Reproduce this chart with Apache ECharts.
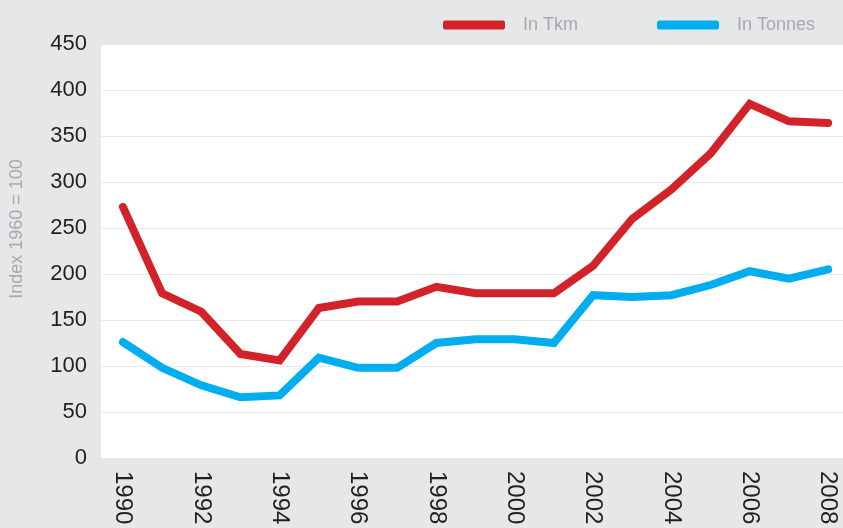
<!DOCTYPE html>
<html>
<head>
    <meta charset="UTF-8">
    <title>Index 1960 = 100</title>
    <script src="https://cdn.jsdelivr.net/npm/echarts@6/dist/echarts.min.js"></script>
    <style>
        html, body { margin: 0; padding: 0; background: #e6e7e8; }
    </style>
</head>
<body>
    <div id="main" style="width: 843px; height: 528px;"></div>
    <script>
        // years on the x axis
        const years = [1990, 1991, 1992, 1993, 1994, 1995, 1996, 1997, 1998, 1999,
                       2000, 2001, 2002, 2003, 2004, 2005, 2006, 2007, 2008];
        // labelled years
        const yearTicks = [1990, 1992, 1994, 1996, 1998, 2000, 2002, 2004, 2006, 2008];
        // values
        const tkm = [273, 179, 159, 113, 106, 163, 170, 170, 186, 179,
                     179, 179, 209, 260, 292, 331, 385, 366, 364];
        const tonnes = [126, 98, 79, 66, 68, 109, 98, 98, 125, 129,
                        129, 125, 177, 175, 177, 188, 203, 195, 205];
        const seriesNames = ['In Tkm', 'In Tonnes'];
        const colors = ['#d2232a', '#00aeef'];

        const font = 'Liberation Sans, Arial, sans-serif';

        function pairs(vals) {
            return years.map((y, i) => [y, vals[i]]);
        }

        const option = {
            backgroundColor: '#e6e7e8',
            textStyle: { fontFamily: font },
            legend: {
                left: 438,
                top: 11,
                itemWidth: 62,
                itemHeight: 9,
                itemGap: 79,
                icon: 'roundRect',
                textStyle: { color: '#a7a9ac', fontSize: 18, padding: [0, 0, 0, 13] },
                data: seriesNames
            },
            grid: {
                left: 101,
                right: 0,
                top: 44,
                bottom: 70,
                show: true,
                backgroundColor: '#ffffff',
                borderWidth: 0
            },
            graphic: [{
                type: 'text',
                x: 8,
                y: 229,
                rotation: Math.PI / 2,
                style: {
                    text: 'Index 1960 = 100',
                    fill: '#a7a9ac',
                    font: '18px ' + font,
                    align: 'center',
                    verticalAlign: 'top'
                }
            }],
            xAxis: {
                type: 'value',
                min: 1989.44,
                max: 2008.38,
                axisLine: { show: false },
                axisTick: { show: false },
                splitLine: { show: false },
                axisLabel: {
                    customValues: yearTicks,
                    rotate: -90,
                    margin: 13,
                    color: '#231f20',
                    fontSize: 24,
                    formatter: function (v) { return String(v); }
                }
            },
            yAxis: {
                type: 'value',
                min: 0,
                max: 450,
                interval: 50,
                axisLine: { show: false },
                axisTick: { show: false },
                splitLine: { lineStyle: { color: '#e8e8e8', width: 1 } },
                axisLabel: { color: '#231f20', fontSize: 22, margin: 14 }
            },
            series: [
                {
                    name: seriesNames[0],
                    type: 'line',
                    data: pairs(tkm),
                    showSymbol: false,
                    color: colors[0],
                    lineStyle: { width: 8, cap: 'round', join: 'miter' }
                },
                {
                    name: seriesNames[1],
                    type: 'line',
                    data: pairs(tonnes),
                    showSymbol: false,
                    color: colors[1],
                    lineStyle: { width: 8, cap: 'round', join: 'miter' }
                }
            ]
        };

        const myChart = echarts.init(document.getElementById('main'));
        myChart.setOption(option);
    </script>
</body>
</html>
